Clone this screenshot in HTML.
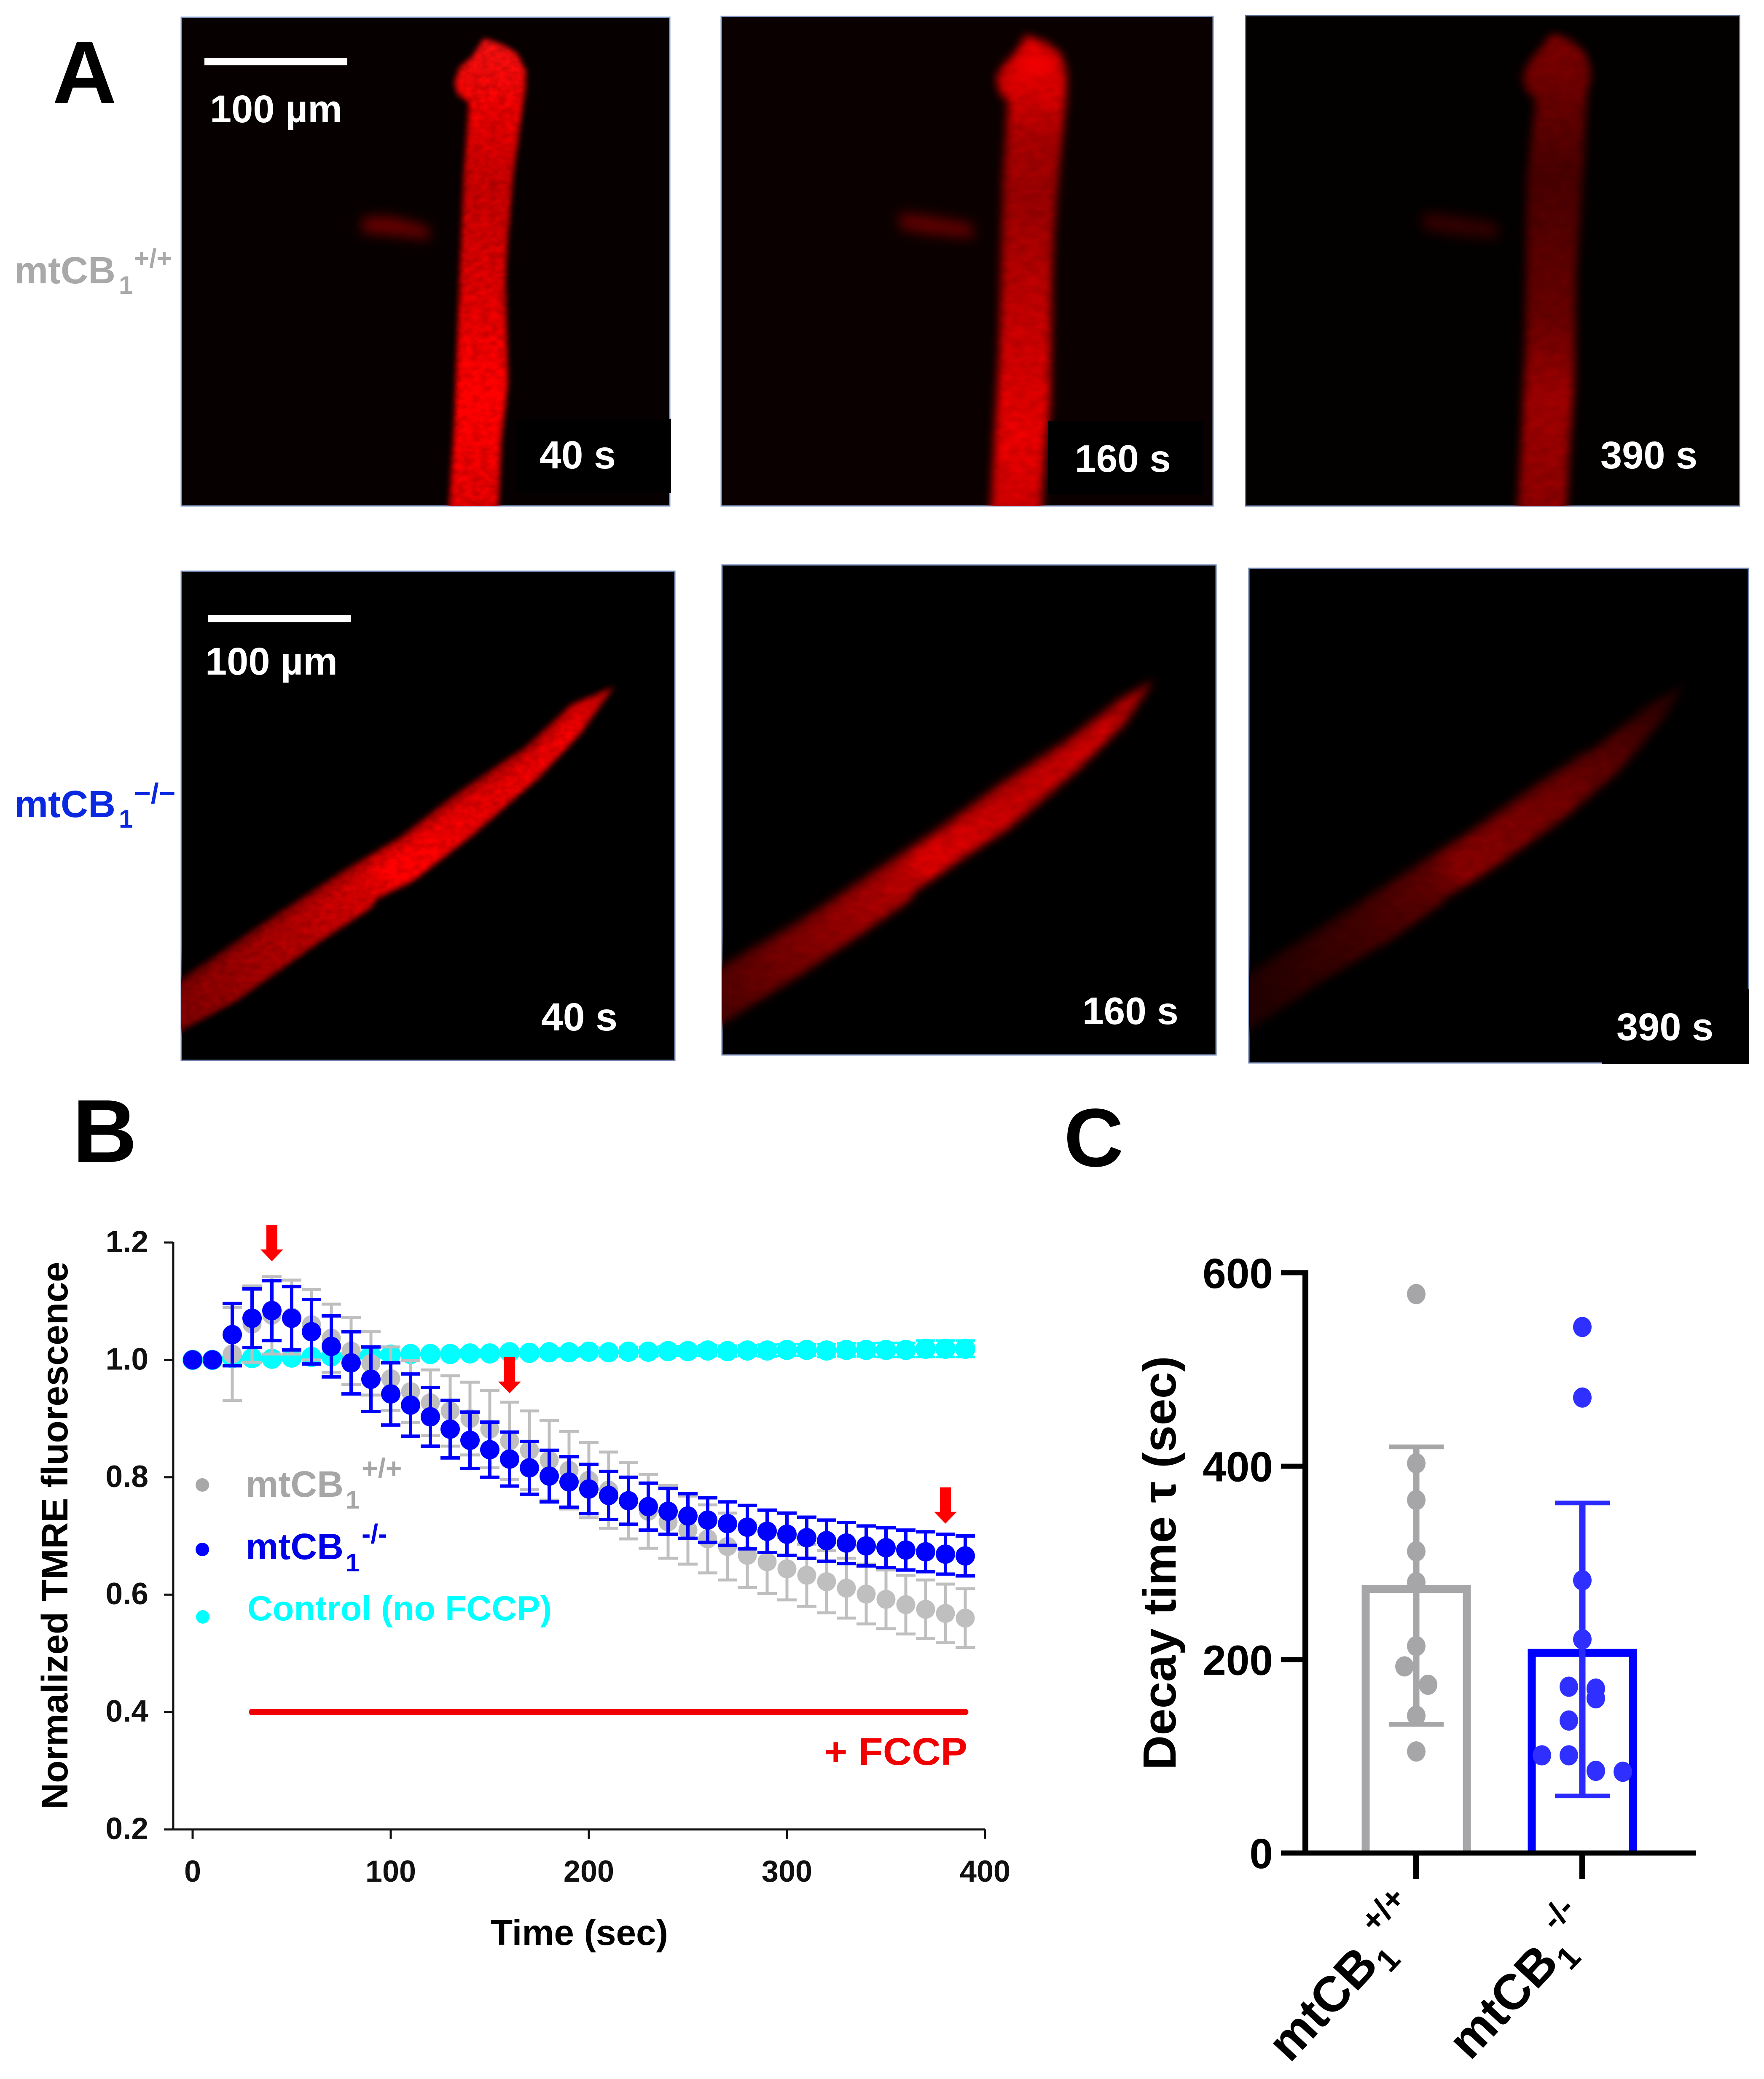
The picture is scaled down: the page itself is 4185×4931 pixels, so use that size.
<!DOCTYPE html>
<html lang="en">
<head>
<meta charset="utf-8">
<title>TMRE fluorescence decay in mtCB1 muscle fibres</title>
<style>
html,body{margin:0;padding:0;background:#fff;}
svg{display:block;}
text{font-family:"Liberation Sans",sans-serif;font-weight:bold;}
</style>
</head>
<body>
<svg id="figure" xmlns="http://www.w3.org/2000/svg" width="4185" height="4931" viewBox="0 0 4185 4931">
<defs>
<filter id="soft" x="-20%" y="-20%" width="140%" height="140%" color-interpolation-filters="sRGB">
<feGaussianBlur in="SourceGraphic" stdDeviation="7" result="b"/>
<feTurbulence type="fractalNoise" baseFrequency="0.05 0.07" numOctaves="2" seed="4" result="n"/>
<feColorMatrix in="n" type="matrix" values="1 0 0 0 0  1 0 0 0 0  1 0 0 0 0  0 0 0 0 1" result="g"/>
<feComposite in="b" in2="g" operator="arithmetic" k1="0.35" k2="0.8" k3="0" k4="0"/>
</filter>
<filter id="soft2" x="-20%" y="-20%" width="140%" height="140%" color-interpolation-filters="sRGB">
<feGaussianBlur in="SourceGraphic" stdDeviation="11" result="b"/>
<feTurbulence type="fractalNoise" baseFrequency="0.03 0.05" numOctaves="2" seed="9" result="n"/>
<feColorMatrix in="n" type="matrix" values="1 0 0 0 0  1 0 0 0 0  1 0 0 0 0  0 0 0 0 1" result="g"/>
<feComposite in="b" in2="g" operator="arithmetic" k1="0.25" k2="0.85" k3="0" k4="0"/>
</filter>
<filter id="plain" x="-30%" y="-50%" width="160%" height="200%"><feGaussianBlur stdDeviation="15"/></filter>
<filter id="glow" x="-50%" y="-50%" width="200%" height="200%"><feGaussianBlur stdDeviation="14"/></filter>
<filter id="shade" x="-10%" y="-10%" width="120%" height="120%"><feGaussianBlur stdDeviation="18"/></filter>
<clipPath id="c1"><rect x="430" y="41" width="1159" height="1159"/></clipPath>
<clipPath id="c2"><rect x="1711" y="39" width="1167" height="1161"/></clipPath>
<clipPath id="c3"><rect x="2955" y="37" width="1172" height="1163"/></clipPath>
<clipPath id="c4"><rect x="430" y="1355" width="1171" height="1160"/></clipPath>
<clipPath id="c5"><rect x="1713" y="1340" width="1172" height="1162"/></clipPath>
<clipPath id="c6"><rect x="2963" y="1348" width="1185" height="1173"/></clipPath>
<linearGradient id="g1" gradientUnits="userSpaceOnUse" x1="0" y1="90" x2="0" y2="1200">
<stop offset="0" stop-color="#f41010"/><stop offset="0.15" stop-color="#e80000"/><stop offset="0.31" stop-color="#c40000"/><stop offset="0.55" stop-color="#dc0000"/><stop offset="0.77" stop-color="#ff0000"/><stop offset="1" stop-color="#e00000"/>
</linearGradient>
<linearGradient id="g2" gradientUnits="userSpaceOnUse" x1="0" y1="83" x2="0" y2="1200">
<stop offset="0" stop-color="#d80000"/><stop offset="0.12" stop-color="#d80000"/><stop offset="0.22" stop-color="#a80000"/><stop offset="0.35" stop-color="#980000"/><stop offset="0.6" stop-color="#c40000"/><stop offset="0.85" stop-color="#e80000"/><stop offset="1" stop-color="#d00000"/>
</linearGradient>
<linearGradient id="g3" gradientUnits="userSpaceOnUse" x1="0" y1="79" x2="0" y2="1200">
<stop offset="0" stop-color="#800000"/><stop offset="0.14" stop-color="#680000"/><stop offset="0.3" stop-color="#480000"/><stop offset="0.6" stop-color="#680000"/><stop offset="0.78" stop-color="#a00000"/><stop offset="1" stop-color="#8c0000"/>
</linearGradient>
<linearGradient id="g4" gradientUnits="userSpaceOnUse" x1="430" y1="2400" x2="1458" y2="1650">
<stop offset="0" stop-color="#800000"/><stop offset="0.25" stop-color="#b00000"/><stop offset="0.42" stop-color="#d80000"/><stop offset="0.47" stop-color="#ff0000"/><stop offset="0.7" stop-color="#e00000"/><stop offset="0.9" stop-color="#f00000"/><stop offset="1" stop-color="#b00000"/>
</linearGradient>
<linearGradient id="g5" gradientUnits="userSpaceOnUse" x1="1713" y1="2370" x2="2738" y2="1640">
<stop offset="0" stop-color="#500000"/><stop offset="0.25" stop-color="#900000"/><stop offset="0.42" stop-color="#b80000"/><stop offset="0.46" stop-color="#e00000"/><stop offset="0.68" stop-color="#c00000"/><stop offset="0.88" stop-color="#cc0000"/><stop offset="1" stop-color="#900000"/>
</linearGradient>
<linearGradient id="g6" gradientUnits="userSpaceOnUse" x1="2963" y1="2380" x2="3996" y2="1650">
<stop offset="0" stop-color="#200000"/><stop offset="0.25" stop-color="#400000"/><stop offset="0.42" stop-color="#600000"/><stop offset="0.47" stop-color="#880000"/><stop offset="0.7" stop-color="#700000"/><stop offset="0.85" stop-color="#500000"/><stop offset="1" stop-color="#200000"/>
</linearGradient>
</defs>

<rect x="0" y="0" width="4185" height="4931" fill="#ffffff"/>

<text x="124" y="245" font-size="212" fill="#000">A</text>
<text x="172" y="2756" font-size="212" fill="#000">B</text>
<text x="2524" y="2766" font-size="196" fill="#000">C</text>

<!-- row labels -->
<g fill="#a9a9a9">
<text x="34" y="672" font-size="90">mtCB</text>
<text x="282" y="697" font-size="60">1</text>
<text x="318" y="634" font-size="62">+/+</text>
</g>
<g fill="#0a28e0">
<text x="34" y="1938" font-size="90">mtCB</text>
<text x="282" y="1963" font-size="60">1</text>
<text x="318" y="1905" font-size="68">&#8722;/&#8722;</text>
</g>

<!-- micrographs -->
<g>
<rect x="430" y="41" width="1159" height="1159" fill="#060000" stroke="#8298c6" stroke-width="3"/>
<g clip-path="url(#c1)">
<polygon filter="url(#soft)" fill="url(#g1)" points="1148,91 1190,105 1225,125 1247,166 1247,210 1243,232 1218,415 1205,560 1199,663 1205,912 1190,1040 1180,1260 1062,1260 1078,1000 1084,829 1100,415 1112,249 1110,240 1085,225 1078,195 1090,160 1120,135"/>
<polygon filter="url(#plain)" fill="#6a0000" points="860,515 930,515 1015,538 1020,568 940,558 860,552"/>
</g>
<rect x="1224" y="993" width="368" height="176" fill="#000"/>
<rect x="485" y="138" width="339" height="17" fill="#fff"/>
<text x="498" y="290" font-size="92" fill="#fff">100 µm</text>
<text x="1280" y="1111" font-size="93" fill="#fff">40 s</text>
</g>

<g>
<rect x="1711" y="39" width="1167" height="1161" fill="#0a0000" stroke="#8298c6" stroke-width="3"/>
<g clip-path="url(#c2)">
<polygon filter="url(#soft2)" fill="url(#g2)" points="2434,83 2480,100 2515,125 2529,166 2530,210 2529,232 2512,415 2500,560 2496,663 2492,954 2480,1080 2467,1260 2348,1260 2362,1000 2371,829 2380,415 2392,240 2375,225 2363,187 2380,155 2410,125"/>
<ellipse cx="2455" cy="155" rx="40" ry="30" fill="#f00000" filter="url(#glow)"/>
<polygon filter="url(#plain)" fill="#600000" points="2135,505 2200,512 2305,530 2310,565 2200,555 2135,542"/>
</g>
<rect x="2487" y="999" width="369" height="174" fill="#000"/>
<text x="2550" y="1119" font-size="91" fill="#fff">160 s</text>
</g>

<g>
<rect x="2955" y="37" width="1172" height="1163" fill="#030000" stroke="#5f6f98" stroke-width="3"/>
<g clip-path="url(#c3)">
<polygon filter="url(#soft2)" fill="url(#g3)" points="3681,79 3725,95 3760,125 3772,158 3772,200 3764,224 3756,415 3745,560 3739,663 3735,912 3725,1050 3714,1260 3598,1260 3612,1000 3619,829 3623,415 3644,236 3625,220 3611,187 3625,150 3655,115"/>
<polygon filter="url(#plain)" fill="#340000" points="3375,505 3440,512 3550,530 3555,565 3440,555 3375,542"/>
</g>
<text x="3797" y="1111" font-size="92" fill="#fff">390 s</text>
</g>

<g>
<rect x="430" y="1355" width="1171" height="1160" fill="#000" stroke="#6f83b0" stroke-width="3"/>
<g clip-path="url(#c4)">
<polygon filter="url(#soft)" fill="url(#g4)" points="1458,1628 1352,1673 1244,1773 1212,1793 1084,1880 944,1988 816,2063 638,2179 430,2320 370,2370 370,2500 430,2444 561,2374 765,2229 880,2154 893,2132 982,2088 1122,1980 1276,1847 1378,1739"/>
<polyline filter="url(#shade)" fill="none" stroke="#000" stroke-opacity="0.55" stroke-width="46" points="1340,1660 1244,1755 1084,1865 944,1972 816,2047 638,2163 430,2304 370,2350"/>
</g>
<rect x="494" y="1458" width="338" height="18" fill="#fff"/>
<text x="487" y="1600" font-size="92" fill="#fff">100 µm</text>
<text x="1284" y="2444" font-size="93" fill="#fff">40 s</text>
</g>

<g>
<rect x="1713" y="1340" width="1172" height="1162" fill="#000" stroke="#6f83b0" stroke-width="3"/>
<g clip-path="url(#c5)">
<polygon filter="url(#soft2)" fill="url(#g5)" points="2738,1613 2645,1665 2521,1760 2496,1774 2380,1851 2214,1972 2081,2059 1899,2179 1713,2287 1650,2320 1650,2470 1713,2428 1899,2312 2048,2212 2156,2137 2172,2113 2280,2038 2396,1963 2562,1822 2670,1715"/>
<polyline filter="url(#shade)" fill="none" stroke="#000" stroke-opacity="0.5" stroke-width="46" points="2640,1650 2496,1758 2380,1835 2214,1956 2081,2043 1899,2163 1713,2271 1650,2304"/>
</g>
<text x="2568" y="2429" font-size="91" fill="#fff">160 s</text>
</g>

<g>
<rect x="2963" y="1348" width="1185" height="1173" fill="#000" stroke="#6f83b0" stroke-width="3"/>
<g clip-path="url(#c6)">
<polygon filter="url(#soft2)" fill="url(#g6)" points="3996,1623 3897,1681 3781,1773 3747,1789 3648,1856 3465,1984 3324,2071 3134,2196 2963,2303 2900,2340 2900,2490 2963,2444 3134,2328 3300,2229 3416,2146 3432,2129 3549,2055 3714,1938 3839,1831 3946,1706"/>
<polyline filter="url(#shade)" fill="none" stroke="#000" stroke-opacity="0.5" stroke-width="46" points="3890,1665 3747,1773 3648,1840 3465,1968 3324,2055 3134,2180 2963,2287 2900,2324"/>
</g>
<rect x="3800" y="2345" width="350" height="178" fill="#000"/>
<text x="3835" y="2467" font-size="92" fill="#fff">390 s</text>
</g>

<!-- panel B -->
<g id="chart-b">
<g id="b-axes"></g>
<text transform="translate(160,3642) rotate(-90)" text-anchor="middle" font-size="87" fill="#000" textLength="1299" lengthAdjust="spacingAndGlyphs">Normalized TMRE fluorescence</text>
<text x="1164" y="4613" font-size="85" fill="#000" textLength="421" lengthAdjust="spacingAndGlyphs">Time (sec)</text>
<g id="b-series"></g>

<g>
<g fill="#a6a6a6">
<circle cx="480" cy="3522" r="16" fill="#a8a8a8"/>
<text x="583" y="3550" font-size="87">mtCB</text>
<text x="820" y="3578" font-size="60">1</text>
<text x="858" y="3505" font-size="66">+/+</text>
</g>
<g fill="#0000e8">
<circle cx="480" cy="3675" r="16" fill="#0000ff"/>
<text x="583" y="3698" font-size="87">mtCB</text>
<text x="820" y="3727" font-size="60">1</text>
<text x="858" y="3660" font-size="64">-/-</text>
</g>
<g fill="#00ffff">
<circle cx="481" cy="3835" r="16"/>
<text x="587" y="3843" font-size="83" textLength="722" lengthAdjust="spacingAndGlyphs">Control (no FCCP)</text>
</g>
</g>

<text x="1955" y="4186" font-size="92" fill="#f00000" textLength="340" lengthAdjust="spacingAndGlyphs">+ FCCP</text>
</g>

<!-- panel C -->
<g id="chart-c">
<g id="c-marks"></g>
<g id="c-axes"></g>
<text transform="translate(2789,3707) rotate(-90)" text-anchor="middle" font-size="110" fill="#000" textLength="982" lengthAdjust="spacingAndGlyphs">Decay time τ (sec)</text>
<g transform="translate(3060,4895) rotate(-47)" fill="#000">
<text x="0" y="0" font-size="118">mtCB</text>
<text x="318" y="28" font-size="76">1</text>
<text x="362" y="-62" font-size="78">+/+</text>
</g>
<g transform="translate(3488,4890) rotate(-47)" fill="#000">
<text x="0" y="0" font-size="118">mtCB</text>
<text x="318" y="28" font-size="76">1</text>
<text x="362" y="-62" font-size="78">-/-</text>
</g>
</g>
</svg>

<script>
// ---- Panel B data ----
var bTimes = [0,10,20,30,40,50,60,70,80,90,100,110,120,130,140,150,160,170,180,190,200,210,220,230,240,250,260,270,280,290,300,310,320,330,340,350,360,370,380,390];
var bKnockout = [1,1,1.043,1.071,1.084,1.071,1.048,1.023,.995,.967,.942,.923,.903,.882,.863,.847,.831,.816,.802,.792,.78,.769,.76,.75,.742,.734,.727,.721,.715,.708,.703,.697,.692,.688,.683,.68,.676,.673,.669,.666];
var bKnockoutErr = [0,0,.053,.05,.051,.054,.055,.052,.053,.055,.053,.053,.05,.049,.048,.047,.046,.045,.044,.043,.042,.041,.04,.04,.039,.038,.038,.037,.037,.036,.036,.035,.035,.035,.034,.034,.034,.034,.034,.034];
var bWild = [1,1,1.01,1.061,1.076,1.073,1.06,1.037,1.015,.994,.968,.946,.927,.913,.9,.882,.862,.846,.829,.812,.795,.778,.76,.742,.724,.71,.695,.682,.667,.656,.644,.633,.622,.611,.601,.592,.583,.575,.568,.56];
var bWildErr = [0,0,.079,.065,.066,.063,.06,.058,.057,.054,.054,.053,.056,.06,.062,.066,.066,.067,.068,.066,.064,.065,.065,.063,.062,.058,.058,.057,.055,.054,.053,.053,.053,.051,.051,.05,.05,.05,.05,.05];
var bControl = [1,1,1.003,1.003,1.002,1.004,1.005,1.006,1.007,1.008,1.009,1.01,1.01,1.01,1.011,1.011,1.013,1.012,1.013,1.013,1.014,1.013,1.014,1.014,1.015,1.015,1.016,1.015,1.016,1.016,1.017,1.017,1.016,1.017,1.017,1.017,1.017,1.019,1.019,1.019];
var bControlErr = [0,0,.002,.003,.003,.003,.004,.004,.004,.005,.005,.005,.005,.005,.006,.006,.006,.006,.007,.007,.007,.007,.008,.008,.008,.008,.009,.009,.009,.01,.01,.01,.011,.011,.011,.012,.012,.014,.014,.014];
var bXTicks = [0,100,200,300,400];
var bYTicks = [0.2,0.4,0.6,0.8,1.0,1.2];
var bArrowTimes = [40,160,380];
var bArrowTips = [1.168,0.943,0.721];
var bFccpStart = 30;
var bFccpEnd = 390;
var bFccpLevel = 0.4;

// ---- Panel C data ----
var cCategories = ['mtCB1 +/+','mtCB1 -/-'];
var cMeans = [273,207];
var cUpper = [420,362];
var cLower = [133,59];
var cYTicks = [0,200,400,600];
var cWildValues = [578,403,365,312,280,214,193,174,142,105];
var cWildSlots = [0,0,0,0,0,0,-1,1,0,0];
var cKnockoutValues = [544,471,282,221,172,170,160,137,101,101,85,84];
var cKnockoutSlots = [0,0,0,0,-1,1,1,-1,-3,-1,1,3];

var NS = 'http://www.w3.org/2000/svg';
function mk(parent, tag, attrs, txt) {
  var el = document.createElementNS(NS, tag);
  for (var k in attrs) { el.setAttribute(k, attrs[k]); }
  if (txt !== undefined) { el.textContent = txt; }
  parent.appendChild(el);
  return el;
}
function xB(t) { return 457 + 4.70 * t; }
function yB(v) { return 4339 - (v - 0.2) * 1392; }
function yC(v) { return 4395 - v * 2.2935; }

// Panel B axes
var bAxes = document.getElementById('b-axes');
function line(parent, x1, y1, x2, y2, stroke, w) {
  return mk(parent, 'line', {x1:x1, y1:y1, x2:x2, y2:y2, stroke:stroke, 'stroke-width':w});
}
var el;
el = line(bAxes, xB(-9.8), yB(1.2) - 2, xB(-9.8), yB(0.2) + 2, '#111', 5);


el = line(bAxes, xB(-9.8), yB(0.2), xB(400), yB(0.2), '#111', 5);


bYTicks.forEach(function (v) {
  var t = line(bAxes, xB(-9.8) - 22, yB(v), xB(-9.8), yB(v), '#111', 5);
  
  
  var l = mk(bAxes, 'text', {x:352, y:yB(v) + 23, 'text-anchor':'end', 'font-size':73, fill:'#111'}, v.toFixed(1));
  
  
});
bXTicks.forEach(function (v) {
  var t = line(bAxes, xB(v), yB(0.2), xB(v), yB(0.2) + 22, '#111', 5);
  
  
  var l = mk(bAxes, 'text', {x:xB(v), y:4463, 'text-anchor':'middle', 'font-size':72, fill:'#111'}, String(v));
  
  
});

// Panel B series
var bSeries = document.getElementById('b-series');
function drawSeries(means, errs, color, r, barW, name) {
  var g = mk(bSeries, 'g', {});
  
  
  bTimes.forEach(function (t, i) {
    if (errs[i] > 0) {
      var up = yB(means[i] + errs[i]), lo = yB(means[i] - errs[i]), x = xB(t);
      var p = mk(g, 'path', {d:'M' + x + ' ' + up + 'V' + lo + 'M' + (x - 23) + ' ' + up + 'H' + (x + 23) + 'M' + (x - 23) + ' ' + lo + 'H' + (x + 23), stroke:color, 'stroke-width':barW, fill:'none'});
      
      
    }
  });
  bTimes.forEach(function (t, i) {
    var c = mk(g, 'circle', {cx:xB(t), cy:yB(means[i]), r:r, fill:color});
    
    
  });
}
drawSeries(bControl, bControlErr, '#00ffff', 24, 6, 'series-control');
drawSeries(bWild, bWildErr, '#bfbfbf', 22.5, 7, 'series-wild-type');
drawSeries(bKnockout, bKnockoutErr, '#0000ff', 23, 8, 'series-knockout');

// FCCP bar
el = mk(bSeries, 'line', {x1:xB(bFccpStart), y1:yB(bFccpLevel), x2:xB(bFccpEnd), y2:yB(bFccpLevel), stroke:'#f00000', 'stroke-width':15, 'stroke-linecap':'round'});



// red arrows
bArrowTimes.forEach(function (t, i) {
  var x = xB(t), tip = yB(bArrowTips[i]);
  var a = mk(bSeries, 'polygon', {points:[[x - 13, tip - 86], [x + 13, tip - 86], [x + 13, tip - 28], [x + 27, tip - 28], [x, tip], [x - 27, tip - 28], [x - 13, tip - 28]].join(' '), fill:'#ff0000'});
  
  
});

// Panel C marks
var cCenters = [3360, 3754];
var cSlotSteps = [28, 32];
var cColors = ['#a6a6a8', '#0000ff'];
var cBarColors = ['#a6a6a8', '#2a2aff'];
var cDotColors = ['#a6a6a8', '#2f2fff'];
var cMarks = document.getElementById('c-marks');
cCategories.forEach(function (cat, i) {
  var cx = cCenters[i], top = yC(cMeans[i]);
  var b = mk(cMarks, 'path', {d:'M' + (cx - 120) + ' 4395V' + top + 'H' + (cx + 120) + 'V4395', fill:'none', stroke:cColors[i], 'stroke-width':19});
  
  
  var e = mk(cMarks, 'path', {d:'M' + cx + ' ' + yC(cUpper[i]) + 'V' + yC(cLower[i]), fill:'none', stroke:cBarColors[i], 'stroke-width':15});
  
  
  var cp = mk(cMarks, 'path', {d:'M' + (cx - 65) + ' ' + yC(cUpper[i]) + 'H' + (cx + 65) + 'M' + (cx - 65) + ' ' + yC(cLower[i]) + 'H' + (cx + 65), fill:'none', stroke:cBarColors[i], 'stroke-width':11});
  
  
});
function drawDots(values, slots, idx) {
  values.forEach(function (v, i) {
    var d = mk(cMarks, 'ellipse', {cx:cCenters[idx] + slots[i] * cSlotSteps[idx], cy:yC(v), rx:22, ry:24, fill:cDotColors[idx]});
    
    
  });
}
drawDots(cWildValues, cWildSlots, 0);
drawDots(cKnockoutValues, cKnockoutSlots, 1);

// Panel C axes
var cAxes = document.getElementById('c-axes');
el = line(cAxes, 3097, yC(600) - 6, 3097, yC(0) + 6, '#000', 14);


el = line(cAxes, 3039, yC(0), 4024, yC(0), '#000', 12);


cYTicks.forEach(function (v) {
  var t = line(cAxes, 3039, yC(v), 3097, yC(v), '#000', 12);
  
  
  var l = mk(cAxes, 'text', {x:3020, y:yC(v) + 36, 'text-anchor':'end', 'font-size':100, fill:'#000'}, String(v));
  
  
});
cCenters.forEach(function (cx) {
  var t = line(cAxes, cx, yC(0), cx, yC(0) + 62, '#000', 14);
  
  
});
</script>
</body>
</html>
